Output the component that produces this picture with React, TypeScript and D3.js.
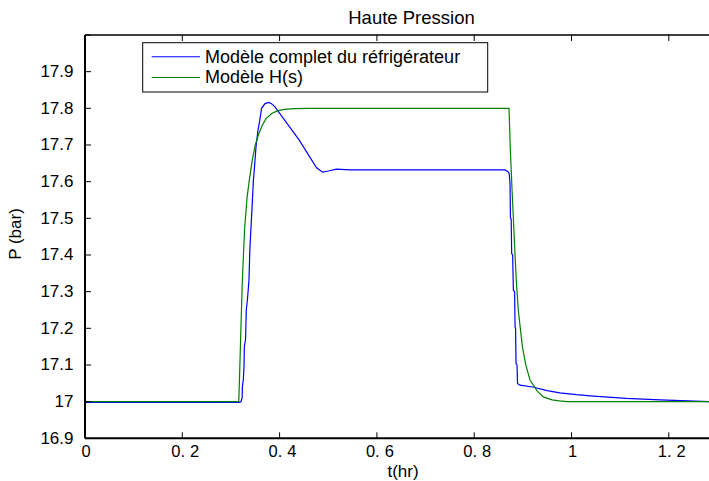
import React from "react";
import * as d3 from "d3";

const title = "Haute Pression";
const xLabel = "t(hr)";
const yLabel = "P (bar)";
const seriesNames = ["Modèle complet du réfrigérateur", "Modèle H(s)"];
const seriesColors = ["#0000ff", "#008000"];

const xTicks = [0, 0.2, 0.4, 0.6, 0.8, 1, 1.2];
const yTicks = [16.9, 17, 17.1, 17.2, 17.3, 17.4, 17.5, 17.6, 17.7, 17.8, 17.9, 18];

// Modèle complet du réfrigérateur (t in hr, P in bar)
const blueT = [
  0, 0.318, 0.3205, 0.323, 0.3235, 0.3254, 0.327, 0.3275, 0.33, 0.3315, 0.334, 0.337, 0.339,
  0.3426, 0.346, 0.349, 0.3515, 0.3555, 0.3583, 0.363, 0.37, 0.378, 0.384, 0.3905, 0.44, 0.476,
  0.4885, 0.5, 0.517, 0.545, 0.7, 0.863, 0.869, 0.872, 0.8736, 0.8745, 0.876, 0.877, 0.879,
  0.8805, 0.883, 0.884, 0.885, 0.886, 0.888, 0.889, 0.8905, 0.894, 0.92, 0.95, 0.976, 1.01,
  1.045, 1.113, 1.182, 1.2826,
];
const blueP = [
  16.998, 16.998, 17.0, 17.01, 17.04, 17.06, 17.1, 17.15, 17.17, 17.25, 17.28, 17.33, 17.42,
  17.51, 17.6, 17.65, 17.695, 17.74, 17.76, 17.8, 17.813, 17.816, 17.812, 17.804, 17.714,
  17.638, 17.626, 17.629, 17.634, 17.632, 17.632, 17.632, 17.628, 17.622, 17.595, 17.5, 17.498,
  17.404, 17.4, 17.304, 17.3, 17.204, 17.2, 17.104, 17.1, 17.05, 17.048, 17.045, 17.04, 17.03,
  17.024, 17.019, 17.015, 17.009, 17.005, 17.0,
];

// Modèle H(s)
const greenT = [
  0, 0.316, 0.3175, 0.3205, 0.3234, 0.328, 0.333, 0.3377, 0.344, 0.35, 0.356, 0.363, 0.372,
  0.384, 0.395, 0.41, 0.43, 0.46, 0.7, 0.8715, 0.8745, 0.8777, 0.8825, 0.8865, 0.8906, 0.899,
  0.906, 0.9147, 0.93, 0.942, 0.96, 0.975, 0.99, 1.1, 1.2826,
];
const greenP = [
  17.0, 17.0, 17.06, 17.2, 17.33, 17.47, 17.555, 17.604, 17.66, 17.7, 17.726, 17.75, 17.772,
  17.786, 17.793, 17.797, 17.799, 17.8, 17.8, 17.8, 17.68, 17.58, 17.44, 17.33, 17.25, 17.15,
  17.1, 17.059, 17.028, 17.013, 17.005, 17.002, 17.0, 17.0, 17.0,
];

const W = 709;
const H = 481;
const L = 85;
const R = 709;
const T = 35;
const B = 438.3;

export default function App() {
  const x = d3.scaleLinear().domain([0, 1.2826]).range([L, R]);
  const y = d3.scaleLinear().domain([16.9, 18.0]).range([B, T]);
  const line = d3
    .line<[number, number]>()
    .x((d) => x(d[0]))
    .y((d) => y(d[1]));
  const blue = blueT.map((t, i) => [t, blueP[i]] as [number, number]);
  const green = greenT.map((t, i) => [t, greenP[i]] as [number, number]);
  const font = "'Liberation Sans', Arial, Helvetica, sans-serif";
  const tickLen = 6;

  const fmtX = (v: number) => {
    if (Number.isInteger(v)) return null;
    const s = String(v);
    return s.split(".");
  };

  return (
    <svg
      width={W}
      height={H}
      style={{ position: "fixed", left: 0, top: 0, background: "#fff" }}
      fontFamily={font}
    >
      <rect x={0} y={0} width={W} height={H} fill="#fff" />
      <text x={411.5} y={24} fontSize={18.5} textAnchor="middle" fill="#000">
        {title}
      </text>

      <path d={line(blue) || ""} fill="none" stroke={seriesColors[0]} strokeWidth={1.2} />
      <path d={line(green) || ""} fill="none" stroke={seriesColors[1]} strokeWidth={1.2} />

      {/* axes box */}
      <line x1={L} x2={R + 5} y1={T} y2={T} stroke="#000" strokeWidth={1.5} />
      <line x1={L} x2={R + 5} y1={B} y2={B} stroke="#000" strokeWidth={2} />
      <line x1={L} x2={L} y1={T} y2={B} stroke="#000" strokeWidth={2} />

      {xTicks.map((v) => {
        const px = x(v);
        const parts = fmtX(v);
        return (
          <g key={"x" + v}>
            {v !== 0 && (
              <>
                <line x1={px} x2={px} y1={B} y2={B - tickLen} stroke="#000" strokeWidth={1} />
                <line x1={px} x2={px} y1={T} y2={T + tickLen} stroke="#000" strokeWidth={1} />
              </>
            )}
            {parts ? (
              <text x={px - 11} y={457} fontSize={16.5} fill="#000">
                {parts[0] + "."}
                <tspan dx={5}>{parts[1]}</tspan>
              </text>
            ) : (
              <text x={px + 1} y={457} fontSize={16.5} textAnchor="middle" fill="#000">
                {String(v)}
              </text>
            )}
          </g>
        );
      })}

      {yTicks.map((v) => {
        const py = y(v);
        return (
          <g key={"y" + v}>
            {v !== 16.9 && (
              <line x1={L} x2={L + tickLen} y1={py} y2={py} stroke="#000" strokeWidth={1} />
            )}
            {v < 17.95 && (
              <text x={73.5} y={py + 5.5} fontSize={17} textAnchor="end" fill="#000">
                {d3.format(".1f")(v).replace(/\.0$/, "")}
              </text>
            )}
          </g>
        );
      })}

      <text x={403} y={476.5} fontSize={17} textAnchor="middle" fill="#000">
        {xLabel}
      </text>
      <text
        transform={`translate(20.5,234) rotate(-90)`}
        fontSize={17}
        textAnchor="middle"
        fill="#000"
      >
        {yLabel}
      </text>

      {/* legend */}
      <rect x={142.7} y={42.7} width={345} height={49.3} fill="#fff" stroke="#000" strokeWidth={1} />
      {seriesNames.map((name, i) => {
        const ly = i === 0 ? 56.7 : 77.5;
        return (
          <g key={name}>
            <line x1={151.7} x2={200} y1={ly} y2={ly} stroke={seriesColors[i]} strokeWidth={1.1} />
            <text x={205} y={ly + 5.8} fontSize={18} fill="#000">
              {name}
            </text>
          </g>
        );
      })}
    </svg>
  );
}
